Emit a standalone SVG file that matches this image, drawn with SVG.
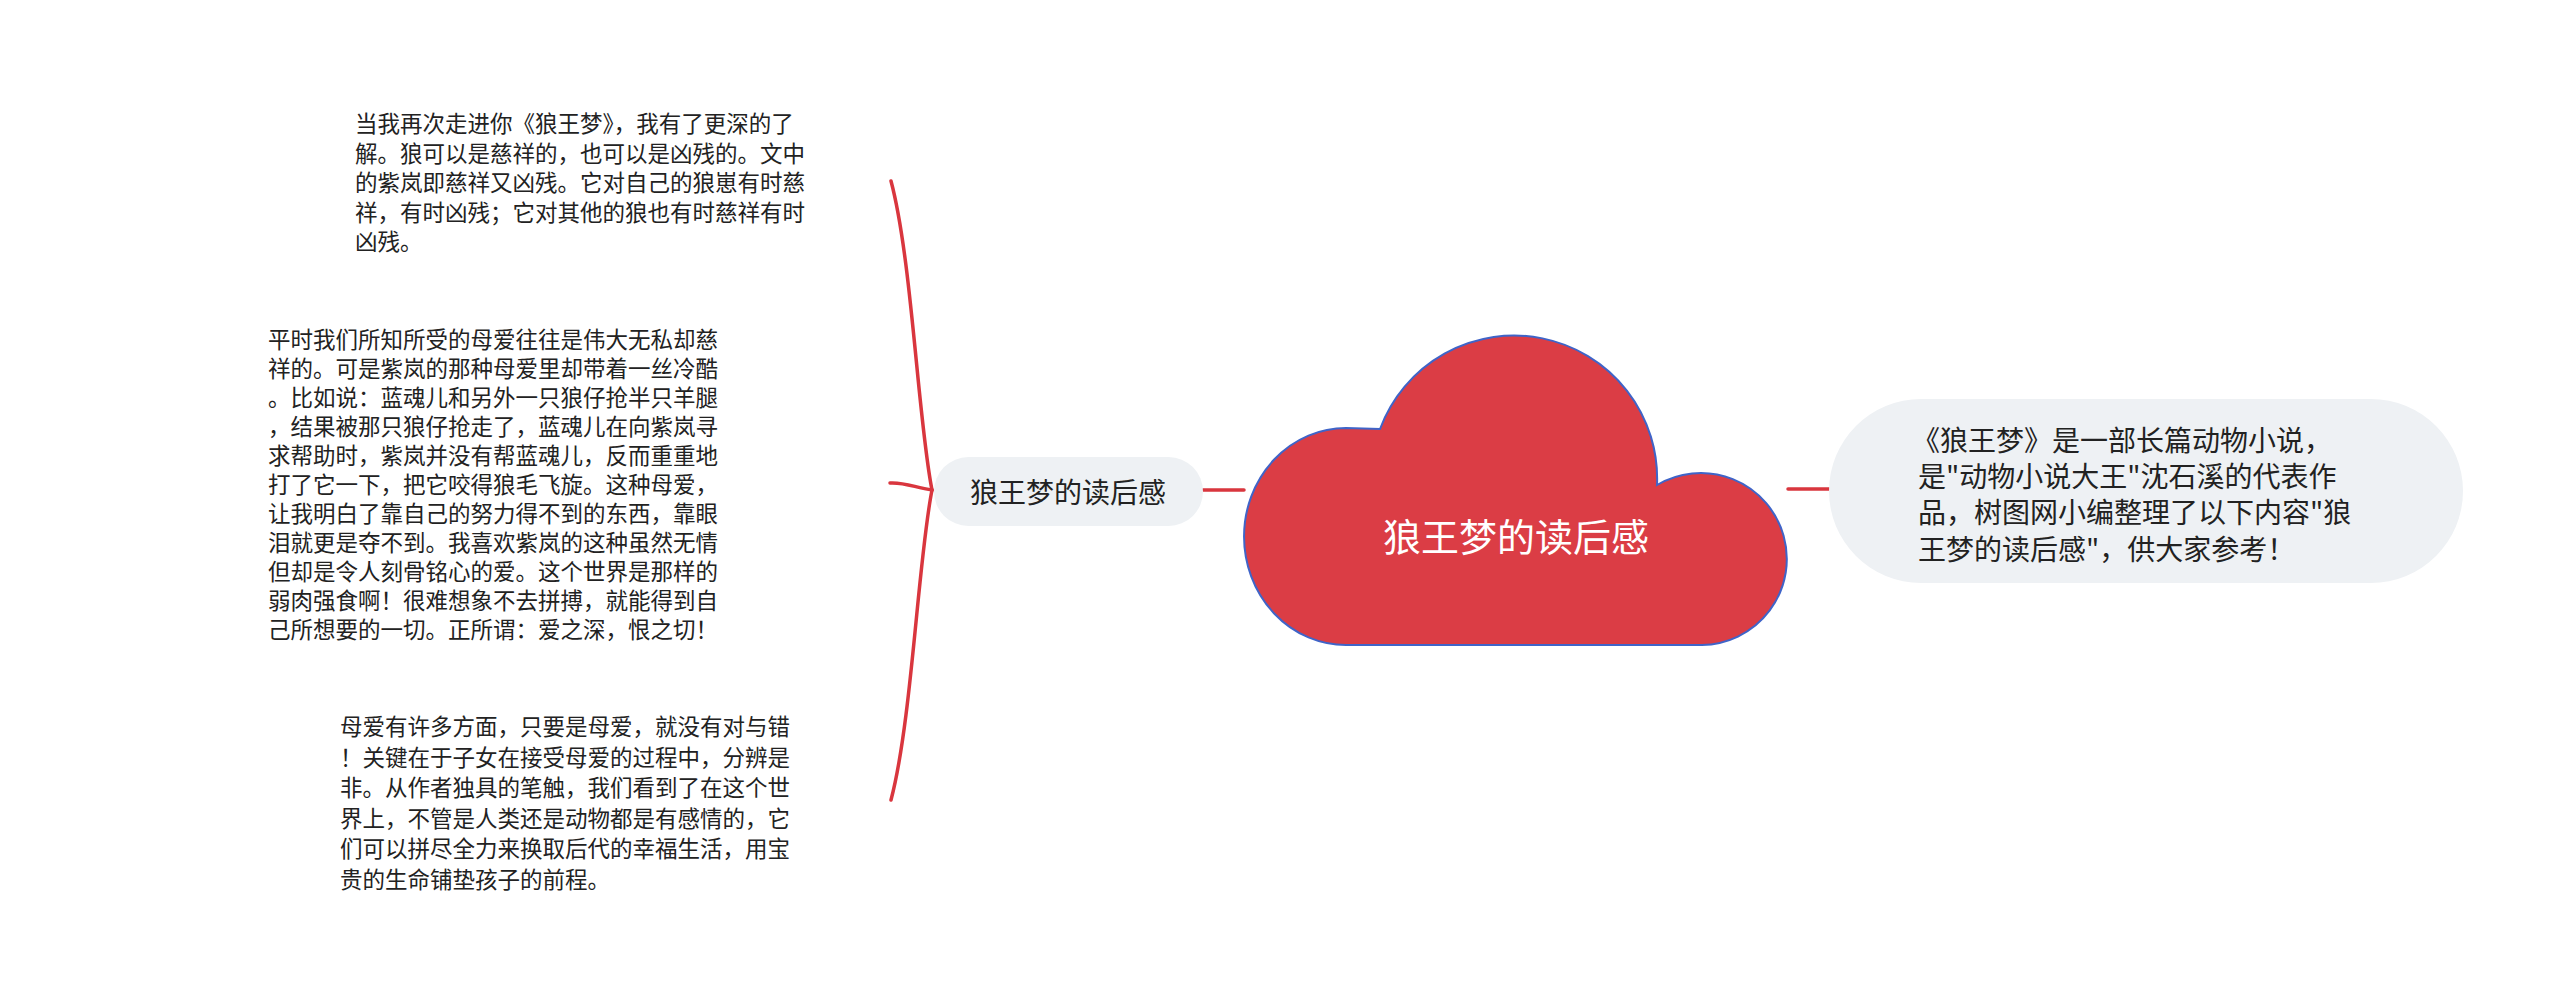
<svg xmlns="http://www.w3.org/2000/svg" width="2560" height="996" viewBox="0 0 2560 996">
<style>
.t{font-family:"Noto Sans CJK SC","Noto Sans",sans-serif;fill:#222;}
.small{font-size:22.5px;}
.conn{fill:none;stroke:#d9363e;stroke-width:3.5;stroke-linecap:round;}
.pill{fill:#eef1f4;}
</style>
<rect width="2560" height="996" fill="#ffffff"/>
<g id="connectors">
<path class="conn" d="M 932 490 C 918 420, 912 260, 891 181"/>
<path class="conn" d="M 932 490 C 918 560, 912 720, 891 800"/>
<path class="conn" d="M 932 490 C 916 488, 905 482, 890 483"/>
<path class="conn" d="M 1203 490 L 1244 490" stroke-linecap="butt"/>
<path class="conn" d="M 1788 489 L 1829 489" stroke-linecap="butt"/>
</g>
<g id="root">
<path d="M 1346 645 A 102 108.5 0 0 1 1346 428 L 1380 429 A 143 143 0 0 1 1657 485 A 86 86 0 1 1 1702 645 Z" fill="#db3d45" stroke="#3f64c8" stroke-width="2"/>
<text class="t" x="1516" y="534" font-size="38" style="fill:#fff" text-anchor="middle" dominant-baseline="central">狼王梦的读后感</text>
</g>
<g id="sub">
<rect class="pill" x="934" y="457" width="269" height="69" rx="34.5"/>
<text class="t" x="1068" y="491" font-size="28" text-anchor="middle" dominant-baseline="central">狼王梦的读后感</text>
</g>
<g id="intro">
<rect class="pill" x="1829" y="399" width="634" height="184" rx="92"/>
<g class="t" font-size="28" dominant-baseline="central">
<text x="1912" y="439">《狼王梦》是一部长篇动物小说，</text>
<text x="1918" y="475">是"动物小说大王"沈石溪的代表作</text>
<text x="1918" y="511">品，树图网小编整理了以下内容"狼</text>
<text x="1918" y="548">王梦的读后感"，供大家参考！</text>
</g>
</g>
<g id="leaf1" class="t small">
<text x="355" y="122" dominant-baseline="central">当我再次走进你《狼王梦》，我有了更深的了</text>
<text x="355" y="151.5" dominant-baseline="central">解。狼可以是慈祥的，也可以是凶残的。文中</text>
<text x="355" y="181" dominant-baseline="central">的紫岚即慈祥又凶残。它对自己的狼崽有时慈</text>
<text x="355" y="210.5" dominant-baseline="central">祥，有时凶残；它对其他的狼也有时慈祥有时</text>
<text x="355" y="240" dominant-baseline="central">凶残。</text>
</g>
<g id="leaf2" class="t small">
<text x="268" y="338" dominant-baseline="central">平时我们所知所受的母爱往往是伟大无私却慈</text>
<text x="268" y="367" dominant-baseline="central">祥的。可是紫岚的那种母爱里却带着一丝冷酷</text>
<text x="268" y="396" dominant-baseline="central">。比如说：蓝魂儿和另外一只狼仔抢半只羊腿</text>
<text x="268" y="425" dominant-baseline="central">，结果被那只狼仔抢走了，蓝魂儿在向紫岚寻</text>
<text x="268" y="454" dominant-baseline="central">求帮助时，紫岚并没有帮蓝魂儿，反而重重地</text>
<text x="268" y="483" dominant-baseline="central">打了它一下，把它咬得狼毛飞旋。这种母爱，</text>
<text x="268" y="512" dominant-baseline="central">让我明白了靠自己的努力得不到的东西，靠眼</text>
<text x="268" y="541" dominant-baseline="central">泪就更是夺不到。我喜欢紫岚的这种虽然无情</text>
<text x="268" y="570" dominant-baseline="central">但却是令人刻骨铭心的爱。这个世界是那样的</text>
<text x="268" y="599" dominant-baseline="central">弱肉强食啊！很难想象不去拼搏，就能得到自</text>
<text x="268" y="628" dominant-baseline="central">己所想要的一切。正所谓：爱之深，恨之切！</text>
</g>
<g id="leaf3" class="t small">
<text x="340" y="725" dominant-baseline="central">母爱有许多方面，只要是母爱，就没有对与错</text>
<text x="340" y="755.5" dominant-baseline="central">！关键在于子女在接受母爱的过程中，分辨是</text>
<text x="340" y="786" dominant-baseline="central">非。从作者独具的笔触，我们看到了在这个世</text>
<text x="340" y="816.5" dominant-baseline="central">界上，不管是人类还是动物都是有感情的，它</text>
<text x="340" y="847" dominant-baseline="central">们可以拼尽全力来换取后代的幸福生活，用宝</text>
<text x="340" y="877.5" dominant-baseline="central">贵的生命铺垫孩子的前程。</text>
</g>
</svg>
